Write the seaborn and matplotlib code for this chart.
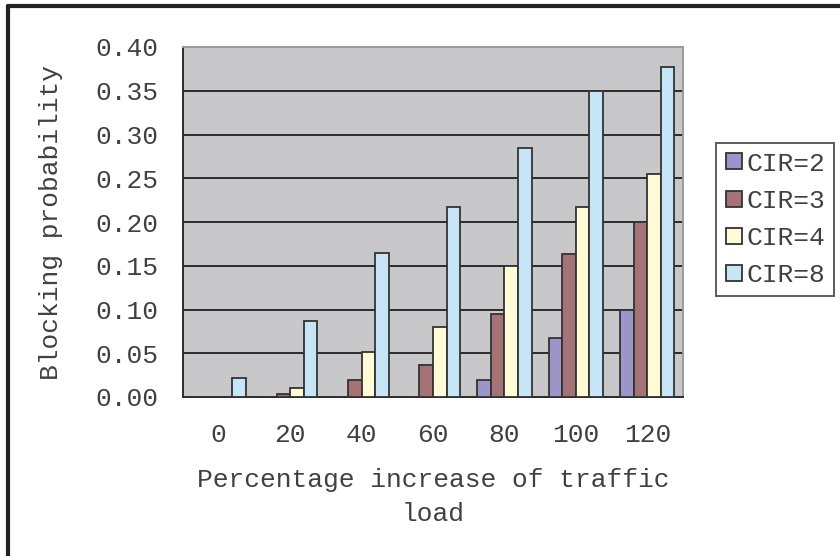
import matplotlib
matplotlib.use("Agg")
import matplotlib.pyplot as plt
from matplotlib.lines import Line2D
import numpy as np
import pandas as pd
import seaborn as sns

# Traffic load increase (%) and blocking probability per cluster size
loads = ["0", "20", "40", "60", "80", "100", "120"]
cir_labels = ["CIR=2", "CIR=3", "CIR=4", "CIR=8"]
cir2 = [0.0, 0.0, 0.0, 0.0, 0.020, 0.068, 0.100]
cir3 = [0.0, 0.004, 0.020, 0.037, 0.095, 0.163, 0.200]
cir4 = [0.0, 0.010, 0.052, 0.080, 0.150, 0.217, 0.255]
cir8 = [0.022, 0.087, 0.165, 0.217, 0.285, 0.350, 0.377]
y_ticks = [0.00, 0.05, 0.10, 0.15, 0.20, 0.25, 0.30, 0.35, 0.40]

colors = ["#9C95C9", "#A57275", "#FFFBD6", "#C6E6F8"]
plot_bg = "#C8C8CA"
ink = "#404040"

df = pd.DataFrame({
    "load": loads * 4,
    "prob": cir2 + cir3 + cir4 + cir8,
    "cir": [c for c in cir_labels for _ in loads],
})

sns.set_theme(style="white")
plt.rcParams["font.family"] = ["Liberation Mono", "DejaVu Sans Mono"]
fs = 18.9

fig = plt.figure(figsize=(8.4, 5.56), dpi=100)
W, H = 840, 556
ax = fig.add_axes([183 / W, 1 - 397 / H, 500 / W, 350 / H])
ax.set_facecolor(plot_bg)

sns.barplot(data=df, x="load", y="prob", hue="cir", order=loads,
            hue_order=cir_labels, palette=colors, width=0.76, gap=0,
            edgecolor="#333333", linewidth=1.3, saturation=1,
            errorbar=None, legend=False, ax=ax, zorder=3)

ax.set_xlim(-0.5, len(loads) - 0.5)
ax.set_ylim(0, 0.40)

# inner horizontal gridlines
for v in y_ticks[1:-1]:
    ax.axhline(v, color="#2b2b2b", lw=1.4, zorder=1)

ax.set_yticks(y_ticks)
ax.set_yticklabels([f"{v:.2f}" for v in y_ticks], fontsize=fs, color=ink)
ax.tick_params(axis="y", which="major", direction="out", length=7.2,
               width=1.3, color="#2b2b2b", pad=10.8)

ax.set_xticks(range(len(loads)))
ax.set_xticklabels(loads, fontsize=fs, color=ink)
ax.set_xticks(np.arange(-0.5, len(loads), 1.0), minor=True)
ax.tick_params(axis="x", which="major", length=0, pad=19)
ax.tick_params(axis="x", which="minor", direction="inout", length=13,
               width=1.3, color="#2b2b2b")

for side in ["left", "bottom"]:
    ax.spines[side].set_color("#2b2b2b")
    ax.spines[side].set_linewidth(1.4)
for side in ["top", "right"]:
    ax.spines[side].set_color("#9a9a9a")
    ax.spines[side].set_linewidth(1.4)

ax.set_ylabel("Blocking probability", fontsize=fs, color=ink, labelpad=23)
ax.set_xlabel("Percentage increase of traffic\nload", fontsize=fs,
              color=ink, labelpad=15, linespacing=1.5)

handles = [Line2D([0], [0], marker="s", linestyle="none", markersize=11,
                  markerfacecolor=c, markeredgecolor="#333333",
                  markeredgewidth=1.3) for c in colors]
leg = fig.legend(handles, cir_labels, loc="upper left",
                 bbox_to_anchor=(716 / W, 1 - 143 / H), frameon=True,
                 fontsize=fs, handlelength=0.7, handletextpad=0.15,
                 labelspacing=0.5, borderpad=0.33, borderaxespad=0,
                 fancybox=False, labelcolor=ink)
leg.get_frame().set_edgecolor("#333333")
leg.get_frame().set_linewidth(1.4)

# outer frame on the left and top edges
fig.add_artist(Line2D([7.5 / W, 7.5 / W], [0, 1 - 5.5 / H],
                      transform=fig.transFigure, color="#222222", lw=3))
fig.add_artist(Line2D([7.5 / W, 1], [1 - 5.5 / H, 1 - 5.5 / H],
                      transform=fig.transFigure, color="#222222", lw=3))

fig.savefig("out.png", dpi=100, facecolor="white")
